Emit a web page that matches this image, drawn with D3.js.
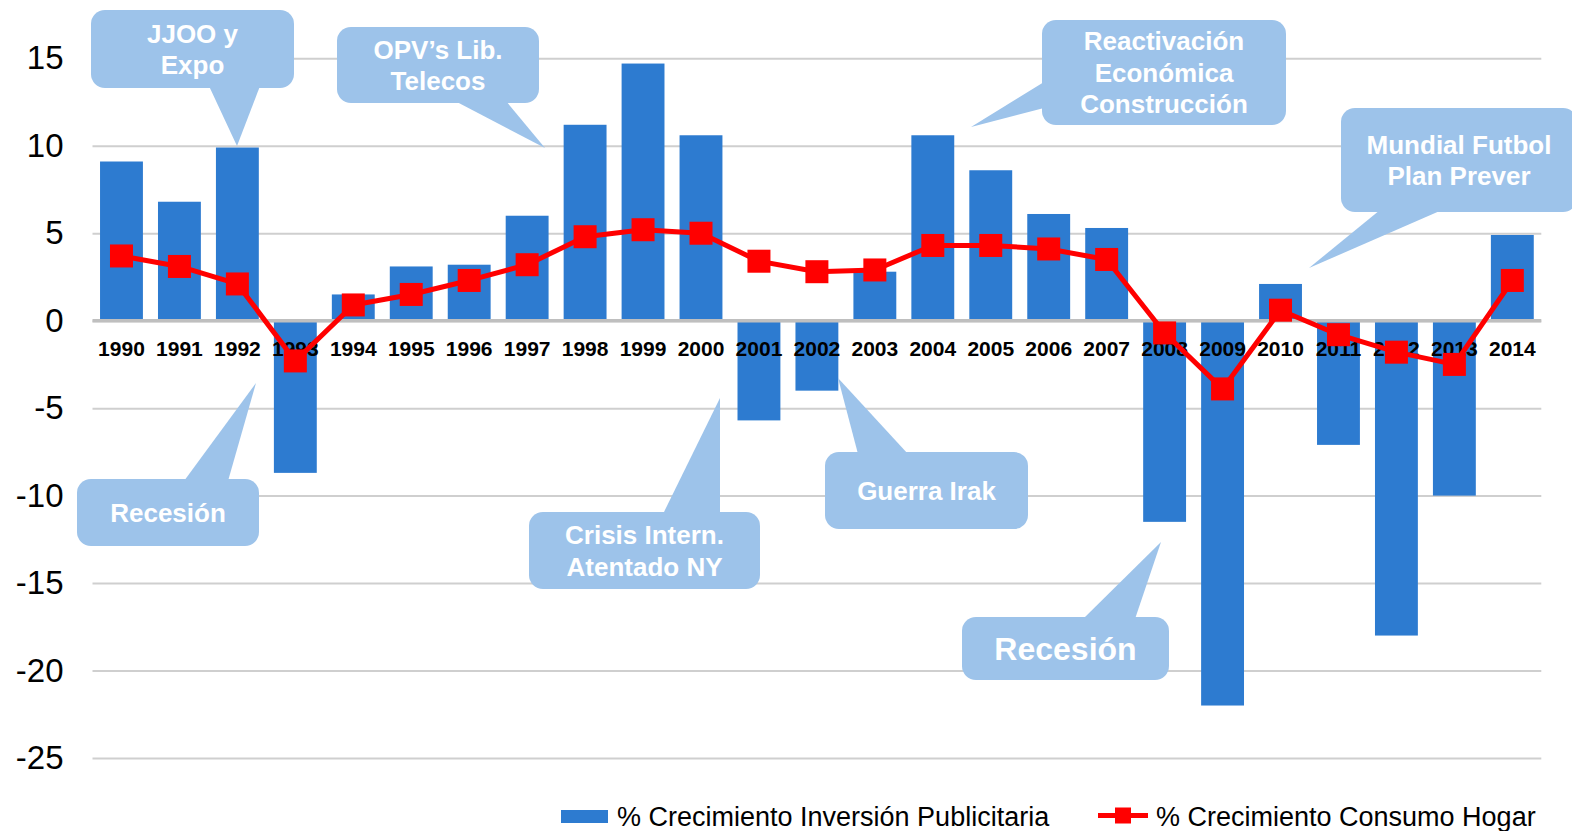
<!DOCTYPE html>
<html>
<head>
<meta charset="utf-8">
<script src="https://cdn.jsdelivr.net/npm/d3@7"></script>
<style>
  body { margin: 0; background: #fff; }
  svg { display: block; font-family: "Liberation Sans", Arial, sans-serif; }
</style>
</head>
<body>
<svg id="chart" width="1572" height="831"></svg>
<script>
// Data
var years = ["1990", "1991", "1992", "1993", "1994", "1995", "1996", "1997", "1998", "1999",
             "2000", "2001", "2002", "2003", "2004", "2005", "2006", "2007", "2008", "2009",
             "2010", "2011", "2012", "2013", "2014"];
var inversion = [9.1, 6.8, 9.9, -8.7, 1.5, 3.1, 3.2, 6.0, 11.2, 14.7,
                 10.6, -5.7, -4.0, 2.8, 10.6, 8.6, 6.1, 5.3, -11.5, -22.0,
                 2.1, -7.1, -18.0, -10.0, 4.9];
var consumo = [3.7, 3.1, 2.1, -2.3, 0.9, 1.5, 2.3, 3.2, 4.8, 5.2,
               5.0, 3.4, 2.8, 2.9, 4.3, 4.3, 4.1, 3.5, -0.7, -3.9,
               0.6, -0.8, -1.8, -2.5, 2.3];
var yTicks = [-25, -20, -15, -10, -5, 0, 5, 10, 15];
var seriesNames = ["% Crecimiento Inversión Publicitaria", "% Crecimiento Consumo Hogar"];

// Callout annotations (text, box, pointer triangle)
var callouts = [
  { lines: ["JJOO y", "Expo"], box: [91, 10, 203, 78], ptr: [[209, 86], [237, 146], [260, 86]], size: 26 },
  { lines: ["OPV\u2019s Lib.", "Telecos"], box: [337, 27, 202, 76], ptr: [[455, 101], [545, 148], [506, 101]], size: 26 },
  { lines: ["Reactivación", "Económica", "Construcción"], box: [1042, 20, 244, 105], ptr: [[1044, 82], [971, 127], [1044, 108]], size: 26 },
  { lines: ["Mundial Futbol", "Plan Prever"], box: [1341, 108, 236, 104], ptr: [[1380, 210], [1309, 268], [1442, 210]], size: 26 },
  { lines: ["Recesión"], box: [77, 479, 182, 67], ptr: [[184, 481], [256, 383], [228, 481]], size: 26 },
  { lines: ["Crisis Intern.", "Atentado NY"], box: [529, 512, 231, 77], ptr: [[663, 514], [720, 398], [720, 514]], size: 26 },
  { lines: ["Guerra Irak"], box: [825, 452, 203, 77], ptr: [[858, 454], [838, 378], [908, 454]], size: 26 },
  { lines: ["Recesión"], box: [962, 617, 207, 63], ptr: [[1083, 619], [1161, 542], [1135, 619]], size: 32 }
];

var svg = d3.select("#chart"),
    plotLeft = 92.5, plotRight = 1541.3, plotTop = 58.3, plotBottom = 758;

var barColor = "#2d7bd0",
    lineColor = "#ff0000",
    calloutColor = "#9dc3ea";

var x = d3.scaleBand()
    .domain(years)
    .range([plotLeft, plotRight])
    .paddingInner(0.26)
    .paddingOuter(0.13);

var y = d3.scaleLinear()
    .domain([-25, 15])
    .range([plotBottom, plotTop]);

// Gridlines and y tick labels (plain hyphen for negatives)
var yAxis = svg.append("g")
    .attr("transform", "translate(" + plotLeft + ",0)")
    .call(d3.axisLeft(y)
        .tickValues(yTicks)
        .tickFormat(function (d) { return String(d); })
        .tickSize(-(plotRight - plotLeft))
        .tickPadding(29));
yAxis.select(".domain").remove();
yAxis.selectAll(".tick line").attr("stroke", "#cfcfcf").attr("stroke-width", 2);
yAxis.selectAll(".tick text")
    .attr("font-size", 33)
    .attr("font-family", "'Liberation Sans', Arial, sans-serif")
    .attr("fill", "#000");

// Bars
svg.append("g")
    .selectAll("rect")
    .data(years)
    .enter().append("rect")
    .attr("x", function (d) { return x(d); })
    .attr("width", x.bandwidth())
    .attr("y", function (d, i) { return y(Math.max(0, inversion[i])); })
    .attr("height", function (d, i) { return Math.abs(y(inversion[i]) - y(0)); })
    .attr("fill", barColor);

// Zero line
svg.append("line")
    .attr("x1", plotLeft).attr("x2", plotRight)
    .attr("y1", y(0)).attr("y2", y(0))
    .attr("stroke", "#bfbfbf")
    .attr("stroke-width", 3.5);

// Year labels next to the zero line
var xAxis = svg.append("g")
    .attr("transform", "translate(0," + y(0) + ")")
    .call(d3.axisBottom(x).tickSize(0).tickPadding(20));
xAxis.select(".domain").remove();
xAxis.selectAll(".tick text")
    .attr("font-size", 21)
    .attr("font-weight", "bold")
    .attr("font-family", "'Liberation Sans', Arial, sans-serif")
    .attr("fill", "#000");

// Consumption line with square markers
var cx = function (d, i) { return x(years[i]) + x.bandwidth() / 2; };
var line = d3.line()
    .x(cx)
    .y(function (d) { return y(d); });

svg.append("path")
    .datum(consumo)
    .attr("d", line)
    .attr("fill", "none")
    .attr("stroke", lineColor)
    .attr("stroke-width", 5)
    .attr("stroke-linejoin", "round");

var ms = 23;
svg.append("g")
    .selectAll("rect")
    .data(consumo)
    .enter().append("rect")
    .attr("x", function (d, i) { return cx(d, i) - ms / 2; })
    .attr("y", function (d) { return y(d) - ms / 2; })
    .attr("width", ms)
    .attr("height", ms)
    .attr("fill", lineColor);

// Callouts
var notes = svg.append("g")
    .selectAll("g")
    .data(callouts)
    .enter().append("g");

notes.append("polygon")
    .attr("points", function (d) { return d.ptr.map(function (p) { return p.join(","); }).join(" "); })
    .attr("fill", calloutColor);

notes.append("rect")
    .attr("x", function (d) { return d.box[0]; })
    .attr("y", function (d) { return d.box[1]; })
    .attr("width", function (d) { return d.box[2]; })
    .attr("height", function (d) { return d.box[3]; })
    .attr("rx", 14)
    .attr("fill", calloutColor);

notes.each(function (d) {
    var g = d3.select(this),
        lh = d.size * 1.21,
        cxm = d.box[0] + d.box[2] / 2,
        cym = d.box[1] + d.box[3] / 2,
        first = cym - (d.lines.length - 1) * lh / 2;
    g.selectAll("text")
        .data(d.lines)
        .enter().append("text")
        .attr("x", cxm)
        .attr("y", function (t, i) { return first + i * lh; })
        .attr("dy", "0.36em")
        .attr("text-anchor", "middle")
        .attr("font-size", d.size)
        .attr("font-weight", "bold")
        .attr("fill", "#fff")
        .text(function (t) { return t; });
});

// Legend
var legend = svg.append("g").attr("font-size", 27).attr("fill", "#000");

legend.append("rect")
    .attr("x", 561).attr("y", 810)
    .attr("width", 47).attr("height", 13)
    .attr("fill", barColor);
legend.append("text")
    .attr("x", 617).attr("y", 826)
    .text(seriesNames[0]);

legend.append("line")
    .attr("x1", 1098).attr("x2", 1148)
    .attr("y1", 815.5).attr("y2", 815.5)
    .attr("stroke", lineColor)
    .attr("stroke-width", 5);
legend.append("rect")
    .attr("x", 1115).attr("y", 807.5)
    .attr("width", 16).attr("height", 16)
    .attr("fill", lineColor);
legend.append("text")
    .attr("x", 1156).attr("y", 826)
    .text(seriesNames[1]);
</script>
</body>
</html>
